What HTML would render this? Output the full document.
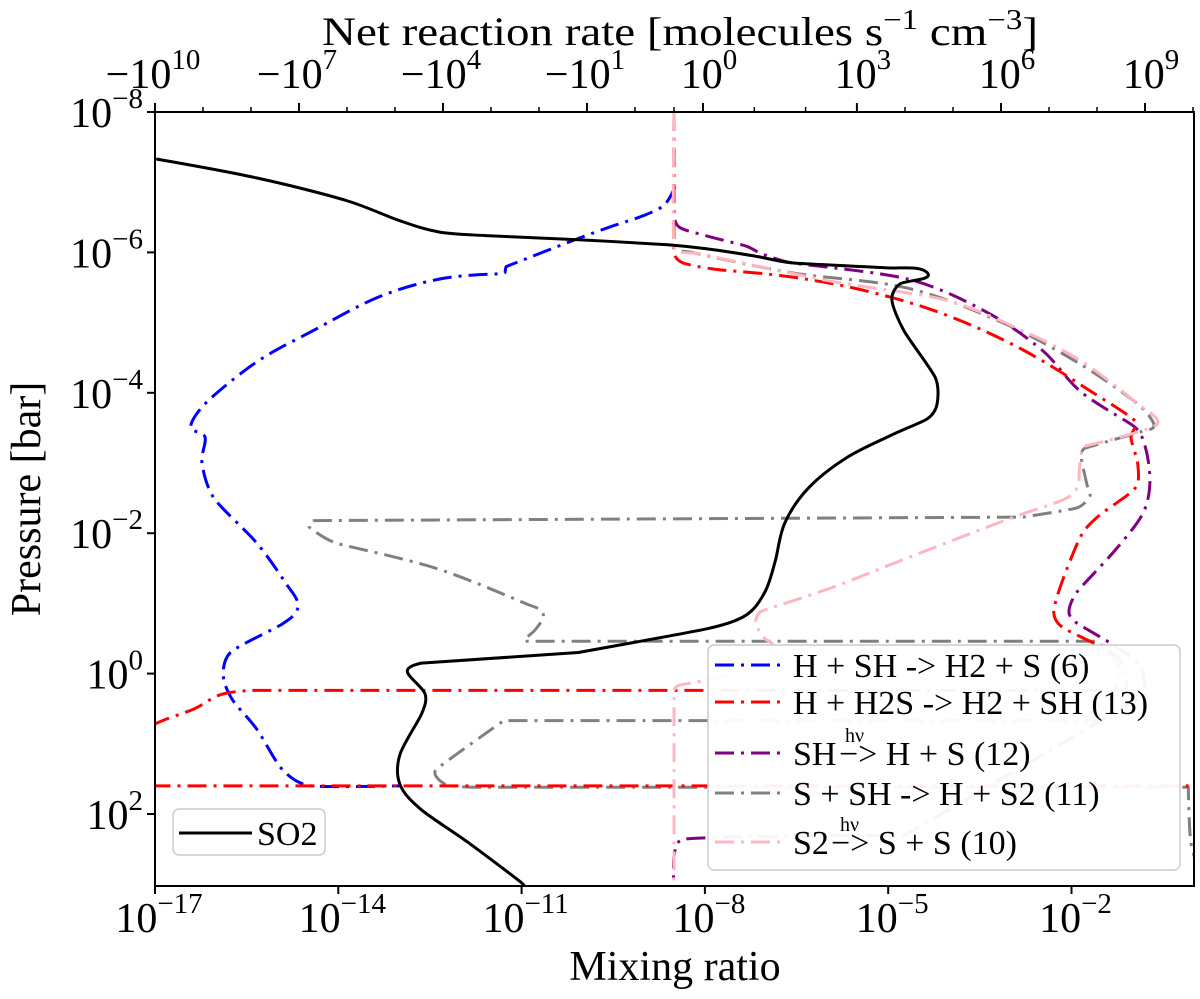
<!DOCTYPE html>
<html><head><meta charset="utf-8"><style>
html,body{margin:0;padding:0;background:#fff;}
svg{display:block;font-family:"Liberation Serif","DejaVu Serif",serif;}
</style></head>
<body>
<svg id="chart" width="1200" height="999" viewBox="0 0 1200 999" xmlns="http://www.w3.org/2000/svg">
<defs><clipPath id="plotclip"><rect x="155" y="112" width="1039" height="774"/></clipPath></defs>
<g id="marks" clip-path="url(#plotclip)"></g>
<g id="axes"></g>
<text x="675" y="980" font-size="42" text-anchor="middle">Mixing ratio</text>
<text transform="translate(40,499) rotate(-90)" x="0" y="0" font-size="42" text-anchor="middle">Pressure [bar]</text>
<text x="680" y="45" font-size="40" text-anchor="middle" textLength="716" lengthAdjust="spacingAndGlyphs">Net reaction rate [molecules s<tspan font-size="28" dy="-16">−1</tspan><tspan dy="16"> cm</tspan><tspan font-size="28" dy="-16">−3</tspan><tspan dy="16">]</tspan></text>
<g>
  <rect x="708" y="645" width="472" height="225" rx="6" fill="#fff" fill-opacity="0.95" stroke="#ccc" stroke-width="1.5"/>
  <g>
    <line x1="715" x2="785" y1="665" y2="665" stroke="#0000ff" stroke-width="3" stroke-dasharray="19 7 3 7"/>
    <text x="793" y="677" font-size="34">H + SH -&gt; H2 + S (6)</text>
  </g>
  <g>
    <line x1="715" x2="785" y1="702" y2="702" stroke="#ff0000" stroke-width="3" stroke-dasharray="19 7 3 7"/>
    <text x="793" y="714" font-size="34">H + H2S -&gt; H2 + SH (13)</text>
  </g>
  <g>
    <line x1="715" x2="785" y1="753" y2="753" stroke="#800080" stroke-width="3" stroke-dasharray="19 7 3 7"/>
    <text x="793" y="765" font-size="34">SH</text>
    <text x="845" y="742" font-size="20">hν</text>
    <text x="839" y="765" font-size="34">−&gt; H + S (12)</text>
  </g>
  <g>
    <line x1="715" x2="785" y1="793" y2="793" stroke="#808080" stroke-width="3" stroke-dasharray="19 7 3 7"/>
    <text x="793" y="805" font-size="34">S + SH -&gt; H + S2 (11)</text>
  </g>
  <g>
    <line x1="715" x2="785" y1="842" y2="842" stroke="#ffb6c1" stroke-width="3" stroke-dasharray="19 7 3 7"/>
    <text x="793" y="854" font-size="34">S2</text>
    <text x="840" y="831" font-size="20">hν</text>
    <text x="831" y="854" font-size="34">−&gt; S + S (10)</text>
  </g>
</g>
<g>
  <rect x="173" y="809" width="152" height="46" rx="6" fill="#fff" fill-opacity="0.95" stroke="#ccc" stroke-width="1.5"/>
  <line x1="179" x2="252" y1="833" y2="833" stroke="#000" stroke-width="3"/>
  <text x="257" y="845" font-size="34">SO2</text>
</g>
</svg>
<script>
// ---- data ----
const so2LogX = [-16.98,-15.33,-13.87,-12.99,-12.35,-11.59,-10.07,-8.61,-7.96,-7.2,-6.57,-5.05,-4.36,-4.81,-4.94,-4.74,-4.23,-4.2,-4.36,-4.94,-5.69,-6.31,-6.69,-6.85,-7.02,-7.33,-7.96,-10.07,-12.64,-12.87,-12.58,-12.64,-12.99,-12.99,-12.64,-11.82,-11.0,-10.9];
const so2LogP = [-7.33,-7.06,-6.74,-6.45,-6.29,-6.24,-6.18,-6.11,-6.05,-5.95,-5.85,-5.78,-5.71,-5.55,-5.32,-4.88,-4.22,-3.84,-3.63,-3.40,-3.07,-2.64,-2.15,-1.60,-1.16,-0.83,-0.64,-0.30,-0.15,-0.03,0.29,0.58,1.15,1.58,1.94,2.44,2.98,3.1];

const blueRate = [0,0,-0.26,-0.8,-2.8,-15,-470,-540,-1.0e4,-2.1e5,-5.6e6,-7.6e7,-8.3e8,-1.8e9,-9.1e8,-1.05e9,-5.9e8,-7.6e7,-1.9e7,-1.05e7,-2.2e7,-2.5e8,-3.8e8,-2.5e8,-7.6e7,-2.2e7,-5.6e6,-8e4];
const blueLogP = [-6.95,-6.9,-6.67,-6.52,-6.38,-6.2,-5.8,-5.7,-5.63,-5.37,-4.87,-4.44,-3.87,-3.52,-3.37,-3.0,-2.5,-1.86,-1.29,-0.96,-0.71,-0.32,0.0,0.36,0.79,1.37,1.6,1.6];

const redRate = [0,0,0.31,1.7,54,1800,7.1e4,2.9e6,7.9e7,6.2e8,5.1e8,7.1e8,6.2e8,1.15e8,4.7e7,1.9e7,1.26e7,1.9e7,1.15e8,3e8,4e8,4e8,-1e8,-4.3e8,-1.5e9,-1e10,-3e10,-3e10,3e10];
const redLogP = [-8,-6.0,-5.85,-5.76,-5.65,-5.44,-5.11,-4.61,-4.01,-3.6,-3.36,-2.97,-2.64,-2.26,-1.97,-1.32,-0.88,-0.66,-0.39,-0.2,0.05,0.24,0.24,0.3,0.5,0.72,1.0,1.6,1.6];

const purpleRate = [0,0,0.18,1.26,6.9,14,54,1.15e4,4.7e5,7.1e6,4.7e7,6.2e8,1.05e9,1.26e9,8.7e8,2.4e8,3.8e7,2.6e7,3.8e7,2.4e8,8e8,1e9,1e4,10,0.3,0,0];
const purpleLogP = [-8,-6.58,-6.36,-6.23,-6.09,-5.98,-5.85,-5.62,-5.16,-4.61,-4.01,-3.51,-3.19,-2.69,-2.26,-1.76,-1.16,-0.88,-0.72,-0.39,-0.1,0.3,2.3,2.32,2.36,2.6,3.2];

const grayRate = [0,0,0.62,54,1.15e4,1.15e6,4.7e7,7.1e8,1.55e9,8.7e8,5.6e7,4.7e7,6.2e7,7.1e7,3.8e7,2.9e6,-4.9e6,-6.2e6,-1.7e6,-1.4e4,-195,-83,-115,-195,-195,1e8,3e8,1e8,-540,-1.4e4,-8.7e3,-2000,8e9,9e9,1.5e10];
const grayLogP = [-8,-6.09,-6.0,-5.71,-5.49,-4.99,-4.4,-3.84,-3.54,-3.45,-3.21,-3.07,-2.69,-2.53,-2.36,-2.23,-2.18,-2.09,-1.86,-1.5,-1.0,-0.86,-0.64,-0.5,-0.46,-0.46,0.0,0.67,0.67,1.37,1.58,1.62,1.62,2.4,2.9];

const pinkRate = [0,0,0.9,310,7.1e4,2.9e6,4.7e7,7.1e8,1.7e9,5.6e7,4.7e7,4.3e7,3.8e7,1.9e7,1.4e6,1.15e4,310,14,10.7,16,23,10,1.2,0.1,0,0];
const pinkLogP = [-8,-6.09,-5.98,-5.59,-5.32,-4.88,-4.45,-3.84,-3.54,-3.24,-3.13,-2.91,-2.64,-2.47,-2.2,-1.65,-1.22,-0.89,-0.72,-0.5,-0.39,-0.1,0.09,0.18,0.36,3.2];

const bottomTickExp = [-17,-14,-11,-8,-5,-2];
const leftTickExp = [-8,-6,-4,-2,0,2];
const topTickLabels = ["−10","−10","−10","−10","10","10","10","10"];
const topTickExpLabels = ["10","7","4","1","0","3","6","9"];
const topTickValues = [-1e10,-1e7,-1e4,-10,1,1e3,1e6,1e9];

// ---- scales ----
function X(l){ return 155 + (l + 17) * 61.1; }
function Y(l){ return 112 + (l + 8) * 70.2; }
function T(v){
  if (v === 0) return 674;
  if (v > 0){
    if (v < 1) return 674 + v * 29;
    const e = Math.log10(v);
    return e <= 3 ? 703 + 51.3 * e : 857 + 48 * (e - 3);
  } else {
    const a = -v;
    if (a < 1) return 674 - a * 39;
    return 635 - 48 * Math.log10(a);
  }
}

const NS = "http://www.w3.org/2000/svg";
const marks = document.getElementById('marks');
const axes = document.getElementById('axes');
function el(tag, attrs, parent){
  const e = document.createElementNS(NS, tag);
  for (const k in attrs) e.setAttribute(k, attrs[k]);
  parent.appendChild(e);
  return e;
}
function dist(a,b){ return Math.hypot(b[0]-a[0], b[1]-a[1]); }
function smoothPath(pts){
  const n = pts.length;
  const tan = pts.map((p,i)=>{
    if (i===0 || i===n-1) return [0,0];
    const a = pts[i-1], b = pts[i+1];
    const l1 = dist(a,p), l2 = dist(p,b);
    if (l1 > 150 || l2 > 150) return [0,0];
    const L = dist(a,b) || 1;
    const k = 0.35 * Math.min(l1, l2);
    return [(b[0]-a[0])/L*k, (b[1]-a[1])/L*k];
  });
  let d = "M" + pts[0][0].toFixed(1) + "," + pts[0][1].toFixed(1);
  for (let i = 0; i < n - 1; i++){
    const p1 = pts[i], p2 = pts[i+1];
    const c1 = [p1[0]+tan[i][0], p1[1]+tan[i][1]];
    const c2 = [p2[0]-tan[i+1][0], p2[1]-tan[i+1][1]];
    d += " C" + c1[0].toFixed(1)+","+c1[1].toFixed(1)+" "+c2[0].toFixed(1)+","+c2[1].toFixed(1)+" "+p2[0].toFixed(1)+","+p2[1].toFixed(1);
  }
  return d;
}
const dashdot = "19 7 3 7";
function rateLine(rates, logp, color, name){
  const pts = rates.map((r,i)=> [T(r), Y(logp[i])]);
  const p = el('path', {d: smoothPath(pts), fill:'none', stroke: color, 'stroke-width': 3, 'stroke-dasharray': dashdot, 'stroke-linejoin':'round'}, marks);
  
  
}
rateLine(blueRate, blueLogP, '#0000ff', 'line-h-sh');
rateLine(grayRate, grayLogP, '#808080', 'line-s-sh');
rateLine(purpleRate, purpleLogP, '#800080', 'line-sh-photolysis');
rateLine(redRate, redLogP, '#ff0000', 'line-h-h2s');
rateLine(pinkRate, pinkLogP, '#ffb6c1', 'line-s2-photolysis');
{
  const pts = so2LogX.map((x,i)=> [X(x), Y(so2LogP[i])]);
  const p = el('path', {d: smoothPath(pts), fill:'none', stroke:'#000', 'stroke-width':3, 'stroke-linejoin':'round'}, marks);
  
  
}

const frame = el('rect', {x:155, y:112, width:1039, height:774, fill:'none', stroke:'#000', 'stroke-width':2}, axes);



function supLabel(x, y, base, sup, anchor, name){
  const t = el('text', {x:x, y:y, 'font-size':42, 'text-anchor':anchor, fill:'#000'}, axes);
  
  
  const a = el('tspan', {}, t); a.textContent = base;
  const b = el('tspan', {'font-size':29, dy:-19}, t); b.textContent = sup;
  return t;
}
bottomTickExp.forEach(e=>{
  const x = X(e);
  const tk = el('line', {x1:x, x2:x, y1:886, y2:894, stroke:'#000', 'stroke-width':2}, axes);
  
  
  supLabel(x+4, 932, "10", "−"+(-e), 'middle', 'x-tick-label');
});
leftTickExp.forEach(e=>{
  const y = Y(e);
  const tk = el('line', {x1:147, x2:155, y1:y, y2:y, stroke:'#000', 'stroke-width':2}, axes);
  
  
  supLabel(143, y+15, "10", e<0 ? "−"+(-e) : String(e), 'end', 'y-tick-label');
});
for (let e=1; e<=10; e++){
  [-1,1].forEach(s=>{
    const x = T(s*Math.pow(10,e));
    if (x < 154 || x > 1195) return;
    const tk = el('line', {x1:x, x2:x, y1:107, y2:112, stroke:'#000', 'stroke-width':1.5}, axes);
    
    
  });
}
[0,-1].forEach(v=>{
  const x = T(v);
  const tk = el('line', {x1:x, x2:x, y1:107, y2:112, stroke:'#000', 'stroke-width':1.5}, axes);
  
  
});
topTickValues.forEach((v,i)=>{
  const x = T(v);
  const tk = el('line', {x1:x, x2:x, y1:103, y2:112, stroke:'#000', 'stroke-width':2}, axes);
  
  
  supLabel(x+(v<0?-2:6), 88, topTickLabels[i], topTickExpLabels[i], 'middle', 'top-tick-label');
});
</script>
</body></html>
